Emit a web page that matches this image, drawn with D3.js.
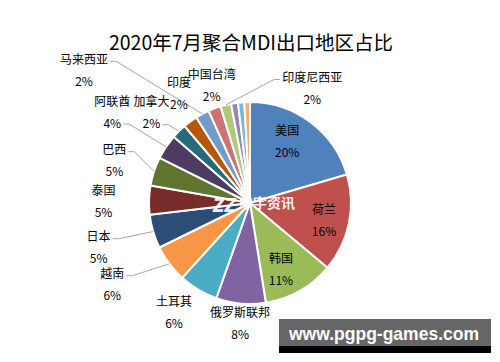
<!DOCTYPE html>
<html>
<head>
<meta charset="utf-8">
<script src="https://cdn.jsdelivr.net/npm/d3@7"></script>
<style>
  body { margin: 0; background: #fff; }
  text { font-family: "Microsoft YaHei", "Noto Sans CJK SC", sans-serif; }
</style>
</head>
<body>
<div id="chart"></div>
<script>
// data (percent of total)
const regions = ["美国", "荷兰", "韩国", "俄罗斯联邦", "土耳其", "越南", "日本", "泰国", "巴西", "阿联酋",
                 "加拿大", "印度", "马来西亚", "中国台湾", "印度尼西亚", "", "", ""];
const shares = [20.4, 15.6, 11.4, 7.9, 6.3, 6.0, 5.4, 4.6, 4.6, 4.0,
                2.4, 2.3, 2.2, 2.0, 1.7, 1.1, 1.0, 0.9];
const colors = ["#4F81BD", "#C0504D", "#9BBB59", "#8064A2", "#4BACC6", "#F79646",
                "#2C4D75", "#772C2A", "#5F7530", "#4D3B62", "#276A7C", "#B65708",
                "#729ACA", "#CD7371", "#AFC97A", "#9983B5", "#6FBDD1", "#F9AB6B"];
const title = "2020年7月聚合MDI出口地区占比";

// label placement: [angle offset (deg) from slice middle, radius factor, leader line (0 none, 1 from name, 2 from %)]
const labelLayout = [
  [-6, 0.72, 0], [0.5, 0.75, 0], [4.4, 0.72, 0], [-0.5, 1.19, 0],
  [4.2, 1.31, 0], [6.6, 1.58, 1], [0.3, 1.56, 1], [-0.8, 1.45, 0],
  [-0.5, 1.41, 1], [0, 1.64, 2], [-2.5, 1.33, 2], [3.5, 1.30, 0],
  [-23, 2.11, 1], [2.6, 1.23, 0], [42.2, 1.30, 1]
];

const width = 500, height = 362;
const cx = 250, cy = 203, radius = 101;

const svg = d3.select("#chart").append("svg")
    .attr("width", width)
    .attr("height", height);

svg.append("text")
    .attr("x", 251)
    .attr("y", 50)
    .attr("text-anchor", "middle")
    .attr("font-size", 19.5)
    .attr("fill", "#000")
    .text(title);

const data = regions.map((name, i) => ({name: name, value: shares[i], color: colors[i]}));
const total = d3.sum(shares);
const fmt = d3.format(".0%");

const pie = d3.pie().sort(null).value(d => d.value);
const arcs = pie(data);
const arc = d3.arc().innerRadius(0).outerRadius(radius);

const g = svg.append("g").attr("transform", `translate(${cx},${cy})`);

g.selectAll("path.slice")
    .data(arcs)
    .join("path")
    .attr("class", "slice")
    .attr("d", arc)
    .attr("fill", d => d.data.color)
    .attr("stroke", "#fff")
    .attr("stroke-width", 2)
    .attr("stroke-linejoin", "round");

// watermark in the middle
const wm = svg.append("g").attr("opacity", 0.9);
wm.append("text")
    .attr("x", 213).attr("y", 212)
    .attr("font-size", 20).attr("font-weight", "bold").attr("font-style", "italic")
    .attr("fill", "#fff")
    .attr("textLength", 23)
    .attr("lengthAdjust", "spacingAndGlyphs")
    .style("font-family", "'DejaVu Sans', sans-serif")
    .text("ZZ");
wm.append("text")
    .attr("x", 239).attr("y", 208)
    .attr("font-size", 14).attr("font-weight", "bold")
    .attr("fill", "#fff")
    .text("中宇资讯");

// labels
const labelG = svg.append("g");
arcs.forEach((d, i) => {
  if (!d.data.name || !labelLayout[i]) return;
  const [dA, f, leader] = labelLayout[i];
  const mid = (d.startAngle + d.endAngle) / 2;
  const a = mid + dA * Math.PI / 180;
  const lx = cx + Math.sin(a) * radius * f;
  const ly = cy - Math.cos(a) * radius * f;

  const t = labelG.append("g");
  const l1 = t.append("text")
      .attr("x", lx).attr("y", ly - 11)
      .attr("text-anchor", "middle")
      .attr("dominant-baseline", "central")
      .attr("font-size", 12).attr("fill", "#000")
      .text(d.data.name);
  const l2 = t.append("text")
      .attr("x", lx).attr("y", ly + 11)
      .attr("text-anchor", "middle")
      .attr("dominant-baseline", "central")
      .attr("font-size", 12).attr("fill", "#000")
      .text(fmt(d.data.value / total));

  if (leader) {
    const line = leader === 2 ? l2 : l1;
    const w = line.node().getComputedTextLength();
    const px = cx + Math.sin(mid) * radius;
    const py = cy - Math.cos(mid) * radius;
    const ay = leader === 2 ? ly + 13 : ly - 8;
    const side = px > lx ? 1 : -1;
    const ax = lx + side * (w / 2 + 2);
    labelG.insert("polyline", ":first-child")
        .attr("points", [[ax, ay], [ax + side * 6, ay], [px, py]].map(p => p.join(",")).join(" "))
        .attr("fill", "none")
        .attr("stroke", "#A6A6A6")
        .attr("stroke-width", 1);
  }
});

// site banner bottom-right
svg.append("rect").attr("x", 279).attr("y", 319).attr("width", 212).attr("height", 27).attr("fill", "#666666");
svg.append("rect").attr("x", 279).attr("y", 346).attr("width", 212).attr("height", 7).attr("fill", "#000");
svg.append("text")
    .attr("x", 289).attr("y", 340)
    .attr("font-size", 18).attr("font-weight", "bold")
    .attr("fill", "#fff")
    .attr("textLength", 190)
    .attr("lengthAdjust", "spacingAndGlyphs")
    .style("font-family", "'Liberation Sans', sans-serif")
    .text("www.pgpg-games.com");
</script>
</body>
</html>
